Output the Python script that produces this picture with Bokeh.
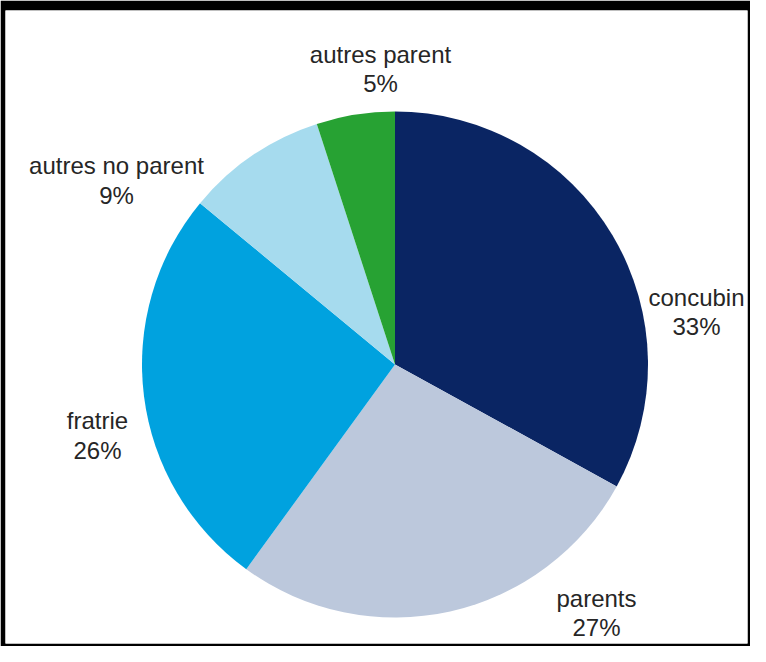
import math
from bokeh.plotting import figure
from bokeh.models import Range1d, ColumnDataSource
from bokeh.embed import file_html
from bokeh.resources import INLINE
from bokeh.core.properties import value

# ---- data ----
categories = ["concubin", "parents", "fratrie", "autres no parent", "autres parent"]
shares = [33, 27, 26, 9, 5]
colors = ["#0a2563", "#bcc8dc", "#00a2df", "#a6dbee", "#27a233"]

# ---- layout (pixel positions of labels: centre x, baseline line 1, baseline line 2) ----
label_x = [696, 596, 97, 116, 380]
label_b1 = [297, 598, 420, 165, 54]
label_b2 = [326, 627, 450, 195, 83]

W, H = 750, 646
B_LEFT, B_TOP, B_RIGHT, B_BOTTOM = 5, 10, 3, 3
CX, CY = 394.5, 364.0   # pie centre in pixels
R = 253

fw, fh = W - B_LEFT - B_RIGHT, H - B_TOP - B_BOTTOM
x0 = B_LEFT - CX
y1 = CY - B_TOP

total = sum(shares)
starts, ends = [], []
cum = 0
for s in shares:
    starts.append(math.pi / 2 - 2 * math.pi * cum / total)
    cum += s
    ends.append(math.pi / 2 - 2 * math.pi * cum / total)

src = ColumnDataSource(dict(cat=categories, share=shares, color=colors,
                            start=starts, end=ends))

p = figure(width=W, height=H, output_backend="svg", toolbar_location=None,
           x_range=Range1d(x0, x0 + fw), y_range=Range1d(y1 - fh, y1),
           min_border_left=B_LEFT, min_border_top=B_TOP,
           min_border_right=B_RIGHT, min_border_bottom=B_BOTTOM,
           border_fill_color="black",
           background_fill_color="white", outline_line_color=None)
p.axis.visible = False
p.grid.visible = False

p.wedge(x=0, y=0, radius=R, start_angle="start", end_angle="end",
        direction="clock", fill_color="color", line_color=None, source=src)

lab = ColumnDataSource(dict(
    x=[lx - CX for lx in label_x],
    y1=[CY - b for b in label_b1],
    y2=[CY - b for b in label_b2],
    name=categories,
    pct=[f"{v}%" for v in shares],
))
for col, ycol in (("name", "y1"), ("pct", "y2")):
    p.text(x="x", y=ycol, text=col, source=lab, text_align="center",
           text_baseline="alphabetic", text_font=value("Liberation Sans"),
           text_font_size="24px", text_color="#262626")

open("out.html", "w").write(file_html(p, INLINE))
